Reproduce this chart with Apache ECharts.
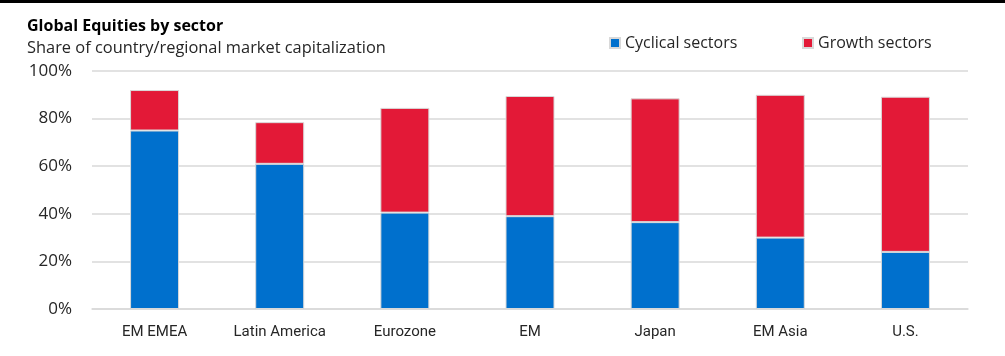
<!DOCTYPE html>
<html>
<head>
<meta charset="utf-8">
<script src="https://cdn.jsdelivr.net/npm/echarts@6/dist/echarts.min.js"></script>
<style>
  html, body { margin: 0; padding: 0; background: #fff; }
  #main { width: 1005px; height: 356px; }
</style>
</head>
<body>
<div id="main"></div>
<script>
// regions, left to right
var categories = ['EM EMEA', 'Latin America', 'Eurozone', 'EM', 'Japan', 'EM Asia', 'U.S.'];
// share of market cap, %
var cyclical = [75, 61, 40.5, 39, 36.5, 30, 24];
var growth = [17, 17.5, 44, 50.5, 52, 60, 65.2];
var yTicks = [0, 20, 40, 60, 80, 100];

var textColor = '#262626';
var gridColor = '#d9d9d9';

var myChart = echarts.init(document.getElementById('main'));
var option = {
    animation: false,
    textStyle: {
        fontFamily: 'Open Sans'
    },
    graphic: [
        {
            type: 'rect',
            left: 0,
            top: 0,
            shape: { width: 1005, height: 3 },
            style: { fill: '#000' }
        }
    ],
    title: [
        {
            text: 'Global Equities by sector',
            left: 22,
            top: 13,
            textStyle: {
                fontFamily: 'Open Sans',
                fontSize: 16,
                fontWeight: 'bold',
                color: '#000'
            }
        },
        {
            text: 'Share of country/regional market capitalization',
            left: 22,
            top: 35,
            textStyle: {
                fontFamily: 'Open Sans',
                fontSize: 16.4,
                fontWeight: 'normal',
                color: textColor
            }
        }
    ],
    legend: [
        {
            data: ['Cyclical sectors'],
            left: 604,
            top: 30,
            icon: 'rect',
            itemWidth: 10,
            itemHeight: 10,
            textStyle: { fontSize: 16, color: textColor, fontFamily: 'Open Sans' }
        },
        {
            data: ['Growth sectors'],
            left: 797,
            top: 30,
            icon: 'rect',
            itemWidth: 10,
            itemHeight: 10,
            textStyle: { fontSize: 16, color: textColor, fontFamily: 'Open Sans' }
        }
    ],
    grid: {
        left: 92,
        right: 37,
        top: 71,
        bottom: 47
    },
    xAxis: {
        type: 'category',
        data: categories,
        axisTick: { show: false },
        axisLine: { lineStyle: { color: gridColor, width: 1.5 } },
        axisLabel: {
            margin: 16,
            fontSize: 15,
            fontFamily: 'Roboto',
            color: textColor
        }
    },
    yAxis: {
        type: 'value',
        min: yTicks[0],
        max: yTicks[yTicks.length - 1],
        interval: 20,
        axisLine: { show: false },
        axisTick: { show: false },
        splitLine: { lineStyle: { color: gridColor, width: 1.5 } },
        axisLabel: {
            margin: 20,
            fontSize: 17,
            color: textColor,
            formatter: '{value}%'
        }
    },
    series: [
        {
            name: 'Cyclical sectors',
            type: 'bar',
            stack: 'share',
            barWidth: 49,
            data: cyclical,
            itemStyle: { color: '#0070cd', borderColor: '#d9d9d9', borderWidth: 1 }
        },
        {
            name: 'Growth sectors',
            type: 'bar',
            stack: 'share',
            barWidth: 49,
            data: growth,
            itemStyle: { color: '#e31937', borderColor: '#d9d9d9', borderWidth: 1 }
        }
    ]
};
myChart.setOption(option);
</script>
</body>
</html>
